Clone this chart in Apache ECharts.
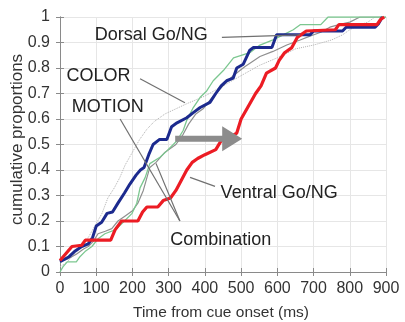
<!DOCTYPE html>
<html><head><meta charset="utf-8">
<script src="https://cdn.jsdelivr.net/npm/echarts@6/dist/echarts.min.js"></script>
<style>html,body{margin:0;padding:0;background:#fff}#c{width:405px;height:322px}</style>
</head><body><div id="c"></div>
<script>
// ---- data (ms, cumulative proportion) ----
const xTickLabels = ['0','100','200','300','400','500','600','700','800','900'];
const yTickLabels = ['0','0.1','0.2','0.3','0.4','0.5','0.6','0.7','0.8','0.9','1'];
const xAxisTitle = 'Time from cue onset (ms)';
const yAxisTitle = 'cumulative proportions';

const dorsalGoNG = [[0,0.04],[25,0.06],[40,0.08],[60,0.1],[78,0.11],[90,0.135],[100,0.18],[115,0.195],[130,0.23],[145,0.235],[160,0.27],[178,0.31],[193,0.345],[210,0.38],[222,0.4],[232,0.41],[245,0.46],[257,0.5],[275,0.52],[295,0.52],[308,0.57],[323,0.585],[350,0.605],[368,0.625],[387,0.645],[414,0.665],[430,0.7],[445,0.73],[460,0.75],[478,0.76],[488,0.8],[506,0.815],[524,0.87],[534,0.88],[585,0.88],[598,0.93],[690,0.93],[700,0.945],[780,0.945],[790,0.96],[870,0.96],[880,0.975],[890,1.0]];

const ventralGoNG = [[0,0.045],[33,0.1],[60,0.105],[70,0.125],[140,0.125],[152,0.165],[170,0.2],[215,0.2],[228,0.235],[240,0.255],[270,0.255],[285,0.28],[305,0.29],[320,0.32],[335,0.36],[350,0.4],[365,0.43],[380,0.445],[400,0.46],[430,0.48],[445,0.515],[470,0.53],[488,0.545],[500,0.6],[520,0.65],[540,0.7],[555,0.73],[570,0.78],[595,0.8],[605,0.83],[620,0.86],[640,0.88],[655,0.92],[680,0.945],[760,0.95],[770,0.97],[875,0.97],[885,0.99],[895,1.0]];

const motion = [[0,0],[8,0.02],[20,0.04],[45,0.04],[55,0.06],[69,0.08],[88,0.1],[105,0.13],[124,0.15],[152,0.165],[171,0.19],[199,0.23],[212,0.27],[221,0.33],[235,0.37],[248,0.425],[276,0.45],[295,0.475],[323,0.515],[340,0.555],[350,0.595],[368,0.645],[387,0.685],[405,0.71],[423,0.75],[451,0.79],[479,0.84],[524,0.86],[552,0.89],[588,0.91],[616,0.93],[644,0.95],[663,0.97],[720,0.97],[740,1.0],[900,1.0]];

const combination = [[0,0.04],[20,0.05],[45,0.07],[65,0.09],[78,0.1],[92,0.12],[105,0.15],[125,0.16],[143,0.17],[160,0.2],[180,0.22],[200,0.24],[215,0.27],[230,0.32],[248,0.41],[265,0.43],[290,0.47],[320,0.5],[340,0.54],[355,0.58],[375,0.62],[395,0.64],[423,0.69],[450,0.73],[478,0.77],[510,0.805],[552,0.845],[588,0.865],[626,0.89],[663,0.91],[690,0.925],[720,0.94],[745,0.96],[770,0.97],[800,0.98],[828,1.0],[900,1.0]];

const color = [[0,0.02],[20,0.04],[40,0.07],[60,0.1],[80,0.14],[100,0.19],[116,0.23],[132,0.29],[150,0.33],[165,0.37],[180,0.42],[200,0.47],[220,0.52],[240,0.56],[260,0.59],[290,0.62],[320,0.64],[350,0.66],[400,0.69],[450,0.73],[500,0.77],[550,0.81],[600,0.84],[650,0.875],[700,0.89],[750,0.91],[780,0.93],[800,0.95],[820,0.965],[850,0.98],[870,1.0]];

// annotations in data coordinates
const annoTexts = [
  {text:'Dorsal Go/NG', at:[252,0.928]},
  {text:'COLOR', at:[106,0.77]},
  {text:'MOTION', at:[132,0.648]},
  {text:'Ventral Go/NG', at:[605,0.31]},
  {text:'Combination', at:[444,0.125]}
];
const annoLines = [
  [[447,0.92],[663,0.93]],
  [[221,0.758],[345,0.664]],
  [[166,0.60],[331,0.2]],
  [[359,0.371],[428,0.336]],
  [[331,0.2],[265,0.426]]
];
const arrowFrom = [318,0.523], arrowTo = [503,0.523];

const FONT = 'Liberation Sans, Arial, sans-serif';
const chart = echarts.init(document.getElementById('c'), null, {renderer:'canvas'});
const gridCol = '#e6e6e6', axisCol = '#8a8a8a';
function ln(data, col, w, type){
  return {type:'line', data, showSymbol:false, symbol:'none', animation:false,
    lineStyle:{color:col, width:w, type:type||'solid'}, z: w>2?5:3};
}
chart.setOption({
  animation:false,
  grid:{left:60, right:19, top:17, bottom:50, containLabel:false, outerBoundsMode:'none'},
  xAxis:[{type:'value', min:0, max:900, interval:100,
    axisLine:{lineStyle:{color:axisCol}}, axisTick:{inside:true, length:4, lineStyle:{color:axisCol}},
    axisLabel:{margin:9, fontFamily:FONT, fontSize:16, color:'#333', formatter:(v)=>xTickLabels[v/100]},
    splitLine:{show:true, lineStyle:{color:gridCol}}},
    {type:'value', position:'top', min:0, max:900, interval:100,
    axisLine:{show:true, lineStyle:{color:axisCol}}, axisTick:{inside:true, length:4, lineStyle:{color:axisCol}},
    axisLabel:{show:false}, splitLine:{show:false}}],
  yAxis:[{type:'value', min:0, max:1, interval:0.1,
    axisLine:{show:true, lineStyle:{color:axisCol}}, axisTick:{show:true, inside:true, length:4, lineStyle:{color:axisCol}},
    axisLabel:{margin:10, fontFamily:FONT, fontSize:16, color:'#333', formatter:(v)=>yTickLabels[Math.round(v*10)]},
    splitLine:{show:true, lineStyle:{color:gridCol}}},
    {type:'value', position:'right', min:0, max:1, interval:0.1,
    axisLine:{show:true, lineStyle:{color:axisCol}}, axisTick:{show:true, inside:true, length:4, lineStyle:{color:axisCol}},
    axisLabel:{show:false}, splitLine:{show:false}}],
  series:[
    ln(color, '#b0b0b0', 1, 'dotted'),
    ln(combination, '#8f8f8f', 1.2),
    ln(motion, '#7cc790', 1.3),
    ln(dorsalGoNG, '#1c2a8e', 3),
    ln(ventralGoNG, '#ec1c24', 3.2)
  ]
});

function px(p){ return chart.convertToPixel({xAxisIndex:0, yAxisIndex:0}, p); }
const g = [];
// axis titles
const xMid = px([450,0]);
g.push({type:'text', x:xMid[0]-2, y:313, style:{text:xAxisTitle, fontFamily:FONT, fontSize:15.5, fill:'#333', align:'center', verticalAlign:'middle'}});
const yMid = px([0,0.52]);
g.push({type:'text', x:17, y:yMid[1], rotation:Math.PI/2, style:{text:yAxisTitle, fontFamily:FONT, fontSize:17, fill:'#333', align:'center', verticalAlign:'middle'}});
annoLines.forEach(l=>{
  const a=px(l[0]), b=px(l[1]);
  g.push({type:'line', shape:{x1:a[0],y1:a[1],x2:b[0],y2:b[1]}, style:{stroke:'#707070', lineWidth:1.2}, z:20});
});
annoTexts.forEach(t=>{
  const p=px(t.at);
  g.push({type:'text', x:p[0], y:p[1], style:{text:t.text, fontFamily:FONT, fontSize:18, fill:'#222', align:'center', verticalAlign:'middle'}, z:21});
});
const a0=px(arrowFrom), a1=px(arrowTo);
const hl=20, hh=12.5, sw=3;
g.push({type:'polygon', shape:{points:[[a0[0],a0[1]-sw],[a1[0]-hl,a1[1]-sw],[a1[0]-hl,a1[1]-hh],[a1[0],a1[1]],[a1[0]-hl,a1[1]+hh],[a1[0]-hl,a1[1]+sw],[a0[0],a0[1]+sw]]},
  style:{fill:'#8c8c8c'}, z:22});
chart.setOption({graphic:g});
</script></body></html>
